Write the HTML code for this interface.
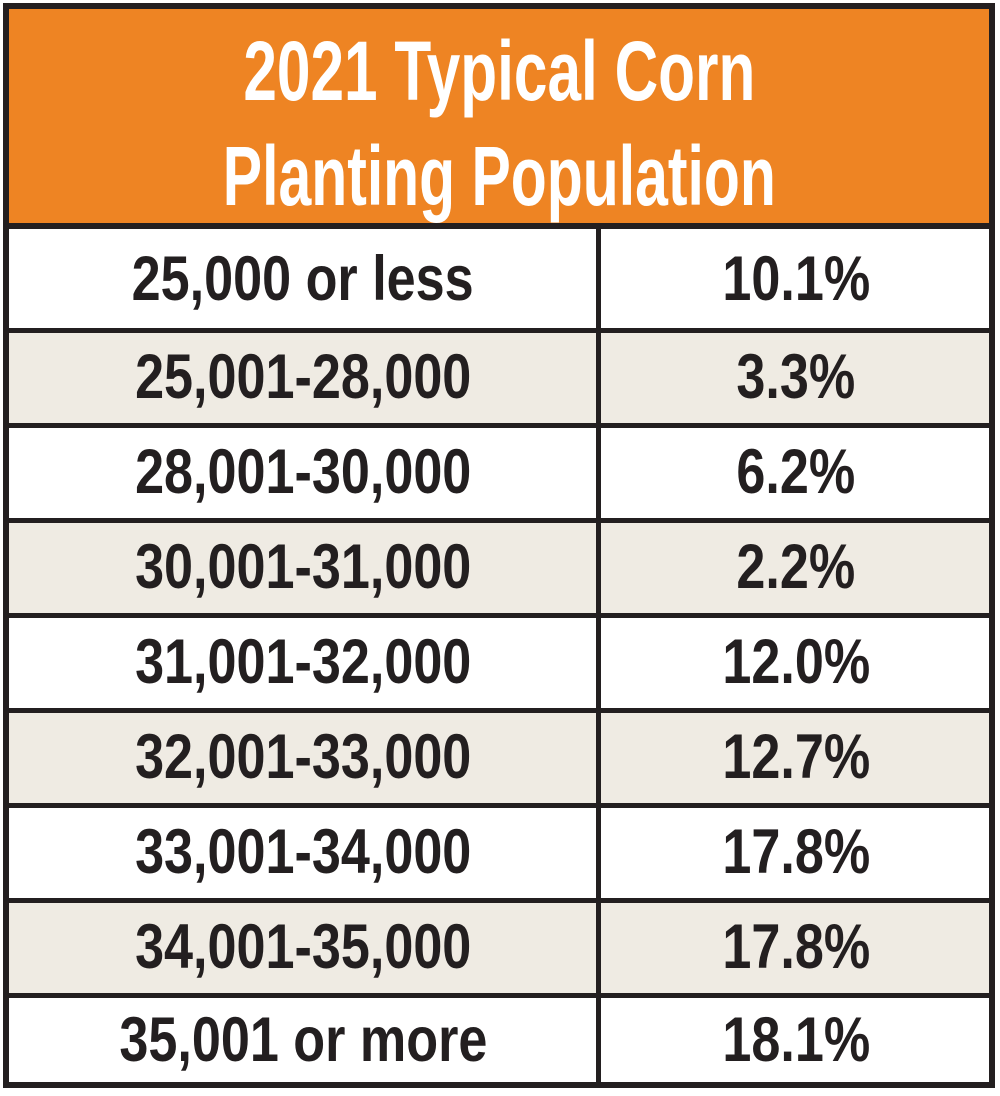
<!DOCTYPE html>
<html><head><meta charset="utf-8">
<style>
html,body{margin:0;padding:0;background:#fff;}
#wrap{position:relative;width:1000px;height:1096px;overflow:hidden;background:#fff;font-family:"Liberation Sans",sans-serif;font-weight:bold;}
.abs{position:absolute;}
.txt{position:absolute;left:0;right:0;text-align:center;white-space:nowrap;}
.txt span{display:inline-block;transform-origin:center center;}
</style></head>
<body>
<div id="wrap">
  <div class="abs" style="left:3px;top:3px;width:992px;height:222px;background:#ee8423;"></div>
  <div class="txt" style="top:26px;font-size:84px;line-height:90px;color:#fff;left:3px;right:5px;"><span id="h1">2021 Typical Corn</span></div>
  <div class="txt" style="top:131px;font-size:84px;line-height:90px;color:#fff;left:3px;right:5px;"><span id="h2">Planting Population</span></div>
  <div id="rows"></div>
  <div class="abs" style="left:3px;top:3px;width:980px;height:1073px;border:6px solid #231f20;"></div>
  <div class="abs" style="left:3px;top:223px;width:992px;height:6px;background:#231f20;"></div>
</div>
<script>
const categories = ["25,000 or less","25,001-28,000","28,001-30,000","30,001-31,000","31,001-32,000","32,001-33,000","33,001-34,000","34,001-35,000","35,001 or more"];
const shares = [10.1,3.3,6.2,2.2,12.0,12.7,17.8,17.8,18.1];

const wrap = document.getElementById('wrap');
const rowsEl = document.getElementById('rows');
const bounds = [228,330,425,520,615,710,805,900,995,1085];
const bodySpans = [];
categories.forEach((c,i)=>{
  const top = bounds[i], h = bounds[i+1]-bounds[i];
  const bg = document.createElement('div');
  
  
  bg.className='abs';
  bg.style.cssText=`left:9px;top:${top}px;width:982px;height:${h}px;background:${i%2? '#efebe3':'#fff'};`;
  rowsEl.appendChild(bg);
  if(i>0){
    const ln=document.createElement('div');
    
    
    ln.className='abs';
    ln.style.cssText=`left:3px;top:${top-2}px;width:992px;height:5px;background:#231f20;`;
    rowsEl.appendChild(ln);
  }
  const l=document.createElement('div');
  
  
  l.className='txt';
  l.style.cssText=`left:9px;width:588px;right:auto;top:${top}px;height:${h}px;line-height:${h}px;font-size:63px;color:#231f20;`;
  l.innerHTML=`<span>${c}</span>`;
  rowsEl.appendChild(l); bodySpans.push(l.firstChild);
  const r=document.createElement('div');
  
  
  r.className='txt';
  r.style.cssText=`left:601px;width:390px;right:auto;top:${top}px;height:${h}px;line-height:${h}px;font-size:63px;color:#231f20;`;
  r.innerHTML=`<span>${shares[i].toFixed(1)}%</span>`;
  rowsEl.appendChild(r); bodySpans.push(r.firstChild);
});
const col=document.createElement('div');


col.className='abs';
col.style.cssText='left:596px;top:228px;width:5px;height:858px;background:#231f20;';
rowsEl.appendChild(col);

function fit(el,target){const w=el.getBoundingClientRect().width;const s=target/w;el.style.transform=`scaleX(${s})`;return s;}
fit(document.getElementById('h1'),512);
fit(document.getElementById('h2'),553);
const s = 342/bodySpans[0].getBoundingClientRect().width;
bodySpans.forEach(sp=>sp.style.transform=`scaleX(${s})`);
</script>
</body></html>
